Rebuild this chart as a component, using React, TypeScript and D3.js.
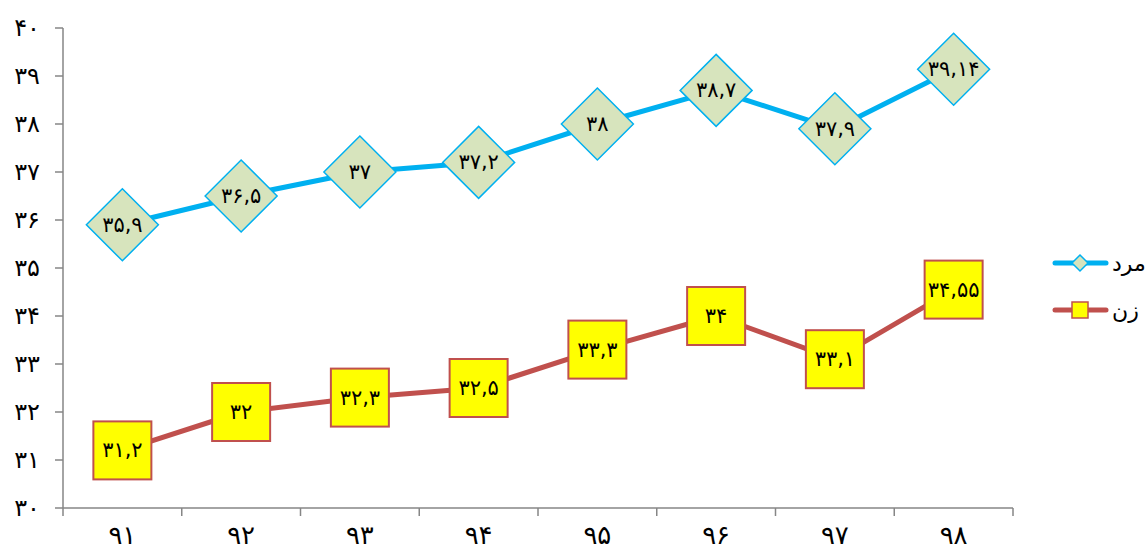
import React from "react";
import * as d3 from "d3";

const years = ["۹۱", "۹۲", "۹۳", "۹۴", "۹۵", "۹۶", "۹۷", "۹۸"];
const menValues = [35.9, 36.5, 37, 37.2, 38, 38.7, 37.9, 39.14];
const menLabels = ["۳۵,۹", "۳۶,۵", "۳۷", "۳۷,۲", "۳۸", "۳۸,۷", "۳۷,۹", "۳۹,۱۴"];
const womenValues = [31.2, 32, 32.3, 32.5, 33.3, 34, 33.1, 34.55];
const womenLabels = ["۳۱,۲", "۳۲", "۳۲,۳", "۳۲,۵", "۳۳,۳", "۳۴", "۳۳,۱", "۳۴,۵۵"];
const yTicks = [30, 31, 32, 33, 34, 35, 36, 37, 38, 39, 40];
const yTickLabels = ["۳۰", "۳۱", "۳۲", "۳۳", "۳۴", "۳۵", "۳۶", "۳۷", "۳۸", "۳۹", "۴۰"];
const seriesNames = ["مرد", "زن"];

const W = 1146;
const H = 552;
const FONT = "DejaVu Sans, sans-serif";

export default function App() {
  const x = d3.scaleBand<string>().domain(years).range([63, 1013]);
  const y = d3.scaleLinear().domain([30, 40]).range([508, 28]);
  const cx = (i: number) => (x(years[i]) as number) + x.bandwidth() / 2;
  const line = d3
    .line<number>()
    .x((_, i) => cx(i))
    .y((d) => y(d));
  const axisColor = "#868686";
  const blue = "#00B0F0";
  const red = "#C0504D";
  const D = 36;
  const S = 29;

  return (
    <svg
      width={W}
      height={H}
      style={{ position: "absolute", left: 0, top: 0, background: "#fff" }}
      fontFamily={FONT}
    >
      {/* y axis */}
      <line x1={63} x2={63} y1={y(40)} y2={y(30)} stroke={axisColor} strokeWidth={1.5} />
      {yTicks.map((t, i) => (
        <g key={t}>
          <line x1={55} x2={63} y1={y(t)} y2={y(t)} stroke={axisColor} strokeWidth={1.5} />
          <text x={40} y={y(t)} textAnchor="end" dominantBaseline="central" fontSize={24} fill="#000">
            {yTickLabels[i]}
          </text>
        </g>
      ))}
      {/* x axis */}
      <line x1={63} x2={1013} y1={508} y2={508} stroke={axisColor} strokeWidth={1.5} />
      {years.map((yr, i) => (
        <line
          key={"xt" + i}
          x1={x(yr) as number}
          x2={x(yr) as number}
          y1={508}
          y2={516}
          stroke={axisColor}
          strokeWidth={1.5}
        />
      ))}
      <line x1={1013} x2={1013} y1={508} y2={516} stroke={axisColor} strokeWidth={1.5} />
      {years.map((yr, i) => (
        <text key={"xl" + i} x={cx(i)} y={544} textAnchor="middle" fontSize={26} fill="#000">
          {yr}
        </text>
      ))}

      {/* lines */}
      <path d={line(menValues) || ""} fill="none" stroke={blue} strokeWidth={5} strokeLinejoin="round" />
      <path d={line(womenValues) || ""} fill="none" stroke={red} strokeWidth={5} strokeLinejoin="round" />

      {/* men markers */}
      {menValues.map((v, i) => (
        <g key={"m" + i} transform={`translate(${cx(i)},${y(v)})`}>
          <path d={`M0,${-D}L${D},0L0,${D}L${-D},0Z`} fill="#D7E4BD" stroke={blue} strokeWidth={1.5} />
          <text x={0} y={0} textAnchor="middle" dominantBaseline="central" fontSize={21} fill="#000">
            {menLabels[i]}
          </text>
        </g>
      ))}
      {/* women markers */}
      {womenValues.map((v, i) => (
        <g key={"w" + i} transform={`translate(${cx(i)},${y(v)})`}>
          <rect x={-S} y={-S} width={2 * S} height={2 * S} fill="#FFFF00" stroke={red} strokeWidth={2} />
          <text x={0} y={0} textAnchor="middle" dominantBaseline="central" fontSize={21} fill="#000">
            {womenLabels[i]}
          </text>
        </g>
      ))}

      {/* legend */}
      <g>
        <line x1={1055} x2={1106} y1={263} y2={263} stroke={blue} strokeWidth={5} strokeLinecap="round" />
        <path d="M1080,255L1088,263L1080,271L1072,263Z" fill="#D7E4BD" stroke={blue} strokeWidth={1.5} />
        <text x={1112} y={263} textAnchor="start" dominantBaseline="central" fontSize={22} fill="#000">
          {seriesNames[0]}
        </text>
        <line x1={1055} x2={1106} y1={310} y2={310} stroke={red} strokeWidth={5} strokeLinecap="round" />
        <rect x={1072} y={302} width={16} height={16} fill="#FFFF00" stroke={red} strokeWidth={1.5} />
        <text x={1112} y={310} textAnchor="start" dominantBaseline="central" fontSize={22} fill="#000">
          {seriesNames[1]}
        </text>
      </g>
    </svg>
  );
}
